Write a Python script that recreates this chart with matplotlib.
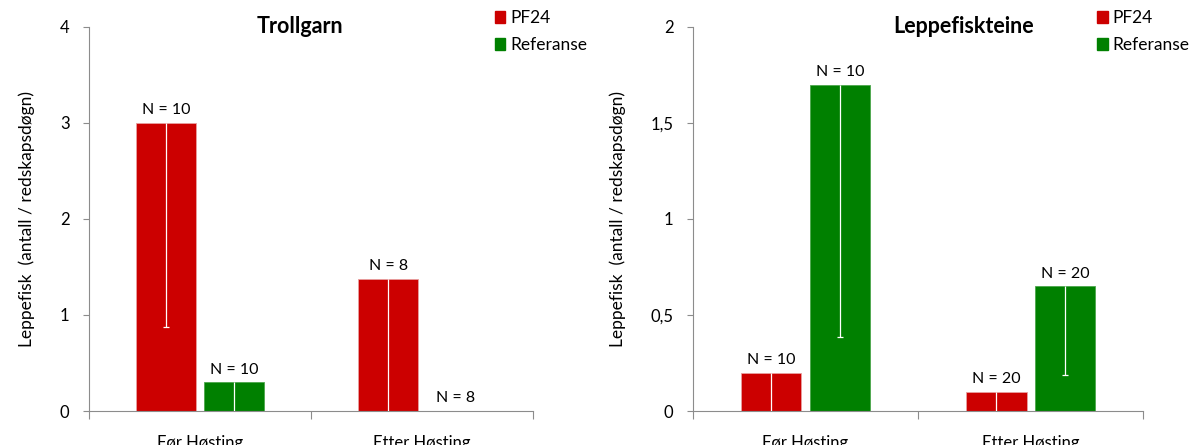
import numpy as np
import matplotlib.pyplot as plt
from matplotlib.patches import Patch

plt.rcParams['font.family'] = ['Lato', 'DejaVu Sans']

categories = ["Før Høsting", "Etter Høsting"]
series_names = ["PF24", "Referanse"]

# Trollgarn
troll_pf24 = [3.0, 1.375]
troll_ref = [0.3, 0.0]
troll_pf24_err = [2.13, 1.5]
troll_ref_err = [0.35, 0.0]
troll_pf24_n = ["N = 10", "N = 8"]
troll_ref_n = ["N = 10", "N = 8"]

# Leppefiskteine
lepp_pf24 = [0.2, 0.1]
lepp_ref = [1.7, 0.65]
lepp_pf24_err = [0.25, 0.12]
lepp_ref_err = [1.315, 0.46]
lepp_pf24_n = ["N = 10", "N = 20"]
lepp_ref_n = ["N = 10", "N = 20"]

red = "#CC0000"
green = "#008000"
spine_col = "#8c8c8c"

fig = plt.figure(figsize=(11.94, 4.45), dpi=100)
ax1 = fig.add_axes([0.0745, 0.0764, 0.372, 0.863])
ax2 = fig.add_axes([0.5804, 0.0764, 0.377, 0.863])


def draw_panel(ax, title, title_x, pf24, ref, pf24_err, ref_err, pf24_n, ref_n,
               ymax, yticks, yticklabels, leg_x):
    x = np.arange(len(categories))
    w = 0.27
    off = 0.153
    cap = 0.012
    for vals, errs, names, col, dx in [(pf24, pf24_err, pf24_n, red, -off),
                                       (ref, ref_err, ref_n, green, off)]:
        ax.bar(x + dx, vals, width=w, color=col, edgecolor="#e8a0a0" if col == red else "#4ca64c",
               linewidth=0.6, zorder=2)
        # lower half of the error bar only (upper half is white on white)
        for xi, v, e in zip(x + dx, vals, errs):
            if v > 0:
                lo = v - e
                ax.vlines(xi, max(lo, 0), v, colors="white", linewidth=0.9, zorder=3)
                if lo > 0:
                    ax.hlines(lo, xi - cap, xi + cap, colors="white", linewidth=0.9, zorder=3)
        for xi, v, t in zip(x + dx, vals, names):
            ax.annotate(t, (xi, v), xytext=(0, 4), textcoords="offset points",
                        ha="center", va="bottom", fontsize=11.5, zorder=4)

    ax.set_xlim(-0.5, 1.5)
    ax.set_ylim(0, ymax)
    ax.set_yticks(yticks)
    ax.set_yticklabels(yticklabels, fontsize=12)
    ax.set_xticks([-0.5, 0.5, 1.5])
    ax.set_xticklabels([])
    ax.set_xticks(x, minor=True)
    ax.set_xticklabels(categories, minor=True, fontsize=12)
    ax.tick_params(axis="x", which="major", direction="out", length=6, color=spine_col)
    ax.tick_params(axis="x", which="minor", length=0, pad=17)
    ax.tick_params(axis="y", direction="out", length=4, color=spine_col, pad=10)
    for s in ["top", "right"]:
        ax.spines[s].set_visible(False)
    for s in ["left", "bottom"]:
        ax.spines[s].set_color(spine_col)
    ax.set_ylabel("Leppefisk  (antall / redskapsdøgn)", fontsize=12.5, labelpad=18)
    ax.text(title_x, 1.0, title, transform=ax.transAxes, ha="center", va="center",
            fontsize=15.5, fontweight="bold")
    handles = [Patch(color=red), Patch(color=green)]
    ax.legend(handles, series_names, loc="upper left", bbox_to_anchor=(leg_x, 1.045),
              frameon=False, fontsize=12.5, handlelength=0.6, handleheight=0.7,
              handletextpad=0.3, labelspacing=0.65, borderpad=0, borderaxespad=0)


draw_panel(ax1, "Trollgarn", 0.475, troll_pf24, troll_ref, troll_pf24_err, troll_ref_err,
           troll_pf24_n, troll_ref_n, 4, [0, 1, 2, 3, 4], ["0", "1", "2", "3", "4"], 0.914)
draw_panel(ax2, "Leppefiskteine", 0.60, lepp_pf24, lepp_ref, lepp_pf24_err, lepp_ref_err,
           lepp_pf24_n, lepp_ref_n, 2, [0, 0.5, 1, 1.5, 2], ["0", "0,5", "1", "1,5", "2"], 0.898)

fig.savefig("out.png", dpi=100)
